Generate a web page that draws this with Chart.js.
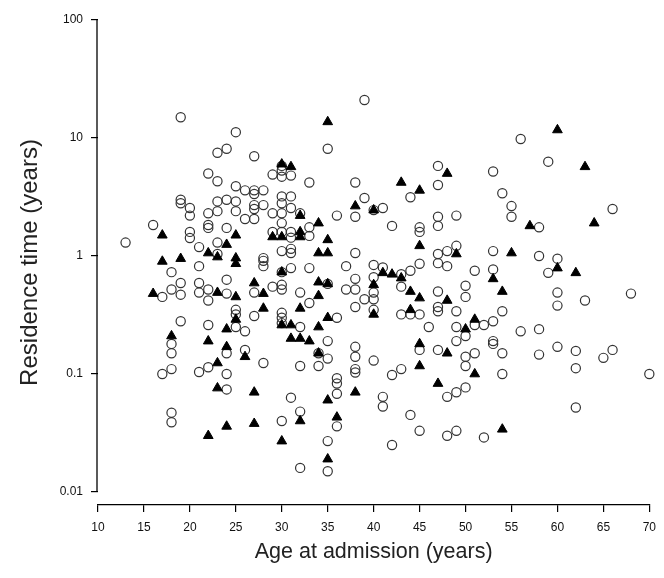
<!DOCTYPE html>
<html><head><meta charset="utf-8">
<script src="https://cdn.jsdelivr.net/npm/chart.js@4.4.1/dist/chart.umd.min.js"></script>
<style>html,body{margin:0;padding:0;background:#fff}#wrap{width:664px;height:578px}</style>
</head><body><div id="wrap"><canvas id="c" width="664" height="578"></canvas></div>
<script>
const xTicks = [10,15,20,25,30,35,40,45,50,55,60,65,70];
const yTicks = [0.01,0.1,1,10,100];

// open circles: ages and residence times (years) at each age
const circleAges = [13,16,17,18,19,20,21,22,23,24,25,26,27,28,29,30,31,32,33,34,35,36,37,38,39,40,41,42,43,44,45,46,47,48,49,50,51,52,53,54,55,56,58,59,60,62,63,65,66,68,70];
const circleTimes = [
 [1.3],
 [1.83],
 [0.45,0.10],
 [0.73,0.52,0.18,0.15,0.11,0.047,0.039],
 [15,3.0,2.8,0.59,0.47,0.28],
 [2.55,2.2,1.6,1.42],
 [1.19,0.82,0.59,0.49,0.104],
 [5.0,2.3,1.83,1.73,0.52,0.42,0.26,0.114],
 [7.5,4.3,2.9,2.4,1.3,1.04],
 [8.1,3.0,1.73,0.63,0.48,0.15,0.1,0.074],
 [11.2,3.9,2.9,2.4,0.35,0.32,0.25],
 [3.6,2.06,0.23,0.16],
 [7.0,3.6,3.35,2.7,2.5,2.06,0.49,0.31],
 [3.6,2.7,0.96,0.91,0.82,0.124],
 [4.9,2.3,1.6,0.55],
 [5.8,5.3,4.7,3.2,2.8,2.3,1.9,1.6,1.1,0.73,0.57,0.52,0.33,0.30,0.27,0.04],
 [4.8,3.2,2.55,1.6,1.43,1.15,1.06,0.79,0.063],
 [2.3,0.49,0.25,0.117,0.048,0.016],
 [4.2,1.75,1.48,0.79,0.4],
 [0.15,0.117],
 [8.1,0.58,0.19,0.135,0.027,0.015],
 [2.2,0.3,0.092,0.083,0.068,0.036],
 [0.82,0.52],
 [4.2,2.15,1.06,0.64,0.52,0.37,0.17,0.14,0.11,0.103],
 [21,3.1,0.43],
 [2.45,0.84,0.66,0.49,0.43,0.35,0.13],
 [2.55,0.8,0.064,0.053],
 [1.8,0.098,0.025],
 [0.7,0.55,0.32,0.11],
 [3.15,0.75,0.32,0.045],
 [1.75,1.6,0.86,0.32,0.16,0.033],
 [0.25],
 [5.8,4.0,2.15,1.8,1.04,0.87,0.5,0.37,0.34,0.16],
 [1.1,0.82,0.064,0.03],
 [2.2,1.22,0.34,0.25,0.19,0.07,0.033],
 [0.56,0.45,0.21,0.14,0.117,0.077],
 [0.75,0.26,0.15],
 [0.26,0.029],
 [5.2,1.1,0.77,0.28,0.19,0.18],
 [3.4,0.34,0.15,0.1],
 [2.65,2.15],
 [9.8,0.23],
 [1.75,1.0,0.24,0.146],
 [6.3,0.72],
 [0.95,0.49,0.38,0.17],
 [0.157,0.112,0.052],
 [0.42],
 [0.137],
 [2.5,0.16],
 [0.48],
 [0.1]
];

// filled triangles: ages and residence times (years) at each age
const triangleAges = [16,17,18,19,22,23,24,25,26,27,28,29,30,31,32,33,34,35,36,38,40,41,42,43,44,45,47,48,49,50,51,53,54,55,57,60,62,63,64];
const triangleTimes = [
 [0.48],
 [1.5,0.9],
 [0.21],
 [0.95],
 [1.06,0.19,0.030],
 [0.98,0.49,0.124,0.076],
 [1.25,0.24,0.17,0.036],
 [1.5,0.96,0.86,0.45,0.29],
 [0.14],
 [0.59,0.07,0.038],
 [0.48,0.36],
 [1.45],
 [6.0,1.45,0.73,0.26,0.027],
 [5.7,0.26,0.2],
 [2.2,1.6,1.45,0.36,0.2,0.04],
 [0.19],
 [1.9,1.06,0.6,0.46,0.25,0.15],
 [13.7,1.37,1.06,0.58,0.3,0.06,0.019],
 [0.043],
 [2.65,0.07],
 [2.45,0.57,0.32],
 [0.72],
 [0.7],
 [4.2,0.65],
 [0.5,0.35],
 [3.6,1.22,0.44,0.18,0.117],
 [0.083],
 [5.0,0.42,0.15],
 [1.04],
 [0.24],
 [0.29,0.1],
 [0.64],
 [0.5,0.034],
 [1.06],
 [1.8],
 [11.7,0.79],
 [0.72],
 [5.7],
 [1.9]
];

function toPoints(ages, times){
  const out = [];
  ages.forEach((a,i)=>times[i].forEach(t=>out.push({x:a,y:t})));
  return out;
}

const FONT = "'Liberation Sans', Arial, sans-serif";

const yAxisLine = {
  id:'yAxisLine',
  afterDraw(chart){
    const y = chart.scales.y, ctx = chart.ctx;
    const x = chart.chartArea.left - 1;
    ctx.save();
    ctx.strokeStyle = '#000';
    ctx.lineWidth = 1.3;
    ctx.beginPath();
    ctx.moveTo(x, y.getPixelForValue(yTicks[yTicks.length-1]));
    ctx.lineTo(x, y.getPixelForValue(yTicks[0]));
    ctx.stroke();
    ctx.restore();
  }
};

new Chart(document.getElementById('c'), {
  type:'scatter',
  data:{datasets:[
    {label:'triangles', data:toPoints(triangleAges, triangleTimes), pointStyle:'triangle', clip:false,
     pointRadius:5.6, backgroundColor:'#000', borderColor:'#000', borderWidth:1},
    {label:'circles', data:toPoints(circleAges, circleTimes), pointStyle:'circle', clip:false,
     pointRadius:4.6, backgroundColor:'rgba(0,0,0,0)', borderColor:'#333', borderWidth:1.2}
  ]},
  options:{
    responsive:false, animation:false, devicePixelRatio:1,
    layout:{padding:{top:20,right:9,left:0,bottom:0}},
    plugins:{legend:{display:false}, tooltip:{enabled:false}},
    scales:{
      x:{type:'linear', min:10, max:70, position:'bottom',
        afterBuildTicks:s=>{s.ticks = xTicks.map(v=>({value:v}));},
        afterFit:s=>{s.height = 73;},
        ticks:{font:{family:FONT,size:12}, color:'#111', padding:8},
        grid:{display:true, drawOnChartArea:false, drawTicks:true, tickLength:7, color:'#000', lineWidth:1.2},
        border:{display:true, color:'#000', width:1.3},
        title:{display:true, text:'Age at admission (years)', color:'#222',
          font:{family:FONT,size:21.5}, padding:{top:0,bottom:13}}
      },
      y:{type:'logarithmic', min:0.00776, max:100,
        afterBuildTicks:s=>{s.ticks = yTicks.map(v=>({value:v}));},
        afterFit:s=>{s.width = 98;},
        ticks:{font:{family:FONT,size:12}, color:'#111', padding:8, callback:v=>String(v)},
        grid:{display:true, drawOnChartArea:false, drawTicks:true, tickLength:7, color:'#000', lineWidth:1.2},
        border:{display:false},
        title:{display:true, text:'Residence time (years)', color:'#222',
          font:{family:FONT,size:24}, padding:{top:16,bottom:0}}
      }
    }
  },
  plugins:[yAxisLine]
});
</script>
</body></html>
